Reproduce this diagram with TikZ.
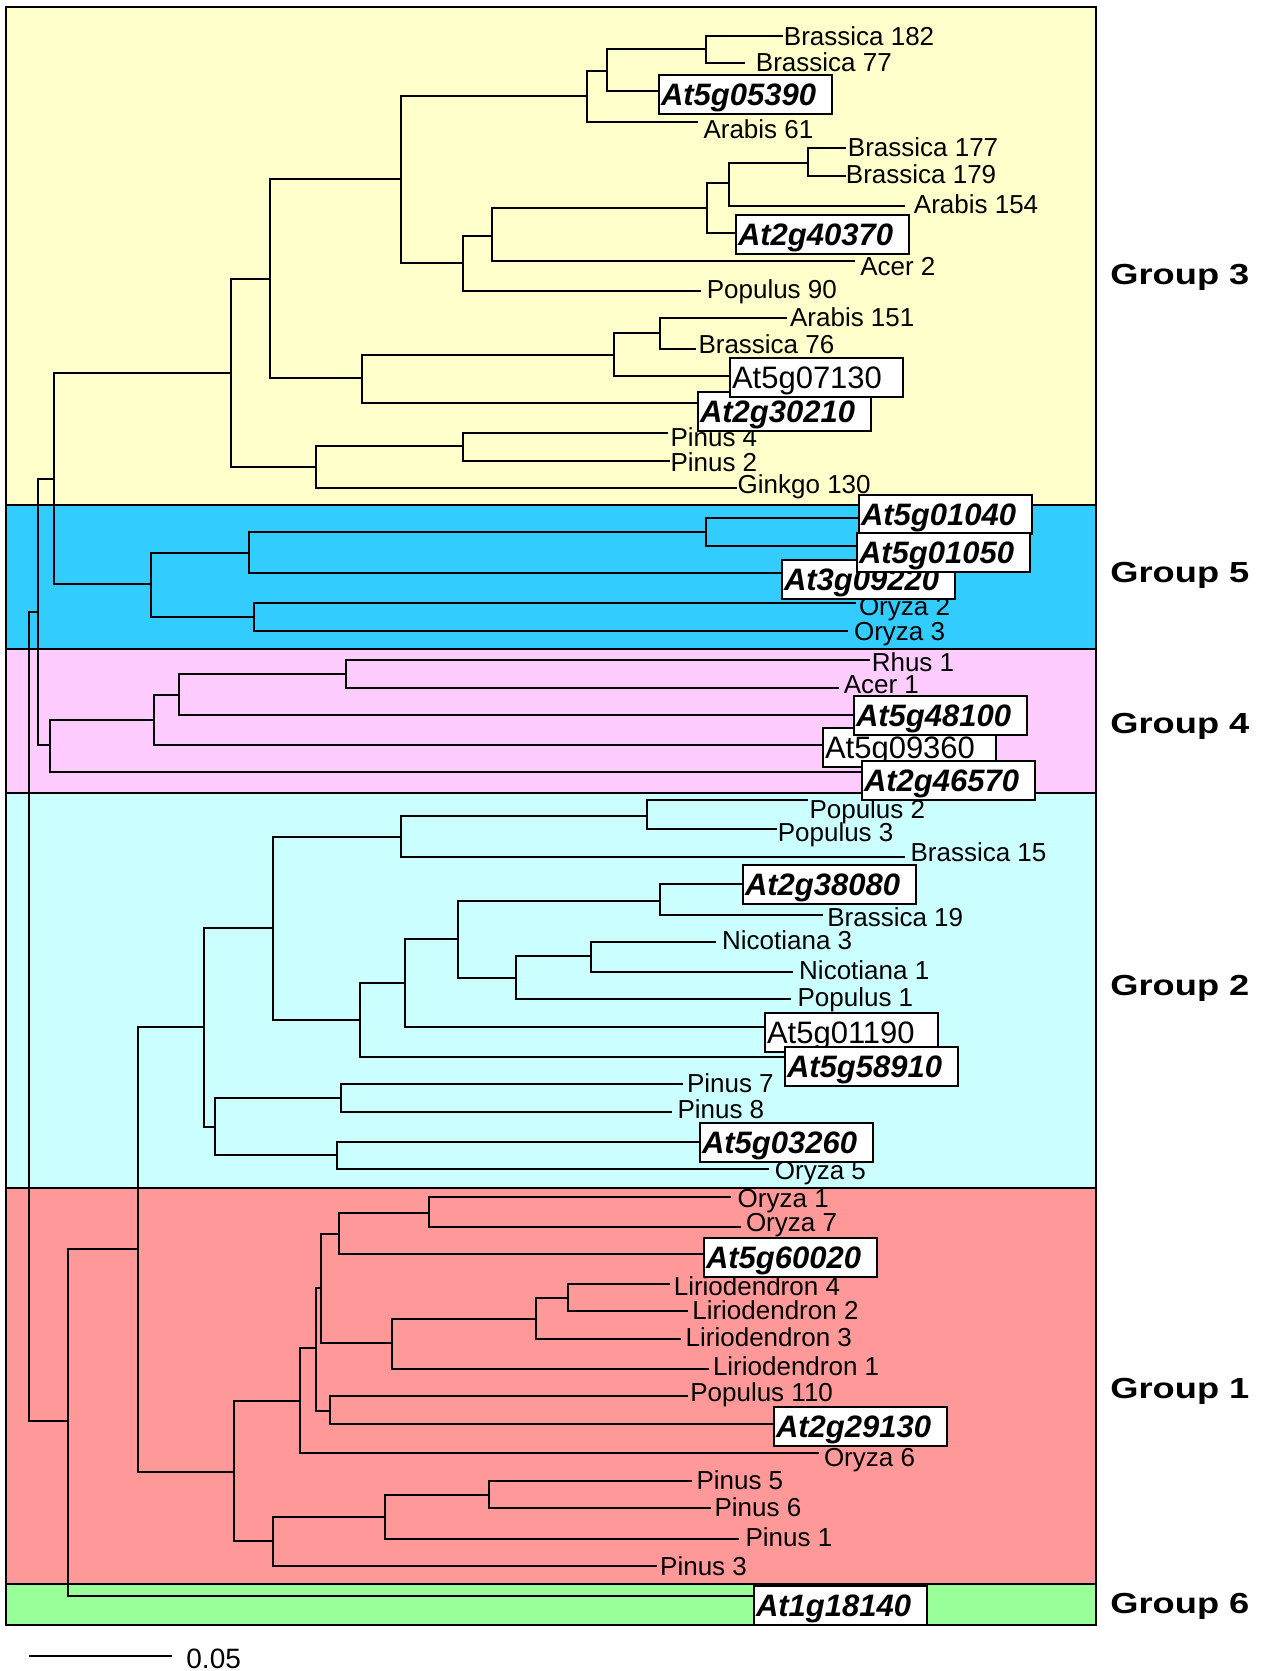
\documentclass[tikz,border=0pt]{standalone}
\usepackage{fontspec}
\setmainfont{Liberation Sans}
\usepackage{graphicx}
\definecolor{pyellow}{HTML}{FFFFCC}
\definecolor{pblue}{HTML}{33CCFF}
\definecolor{ppink}{HTML}{FFCCFF}
\definecolor{pcyan}{HTML}{CCFFFF}
\definecolor{pred}{HTML}{FF9999}
\definecolor{pgreen}{HTML}{99FF99}
\newcommand\lbfont{\fontsize{13pt}{15pt}\selectfont}
\newcommand\bxfont{\fontsize{15.5pt}{18pt}\selectfont}
\newcommand\grfont{\fontsize{14.5pt}{17pt}\selectfont\bfseries}
\begin{document}
\begin{tikzpicture}[x=0.5pt,y=-0.5pt,
  branch/.style={line width=1pt, line join=miter},
  panel/.style={draw=black, line width=0.9pt},
  lab/.style={anchor=base west, inner sep=0pt, font=\lbfont},
  boxlab/.style={draw=black, fill=white, line width=1pt, anchor=west,
    inner xsep=1pt, inner ysep=0pt, text width=84.6pt, align=left,
    minimum height=19.5pt, text height=11.1pt, text depth=0pt, font=\bxfont},
  grp/.style={anchor=base west, inner sep=0pt, font=\grfont}]
\useasboundingbox (0,0) rectangle (1267,1671);
% panels
\foreach \c/\a/\b in {pyellow/7/505, pblue/505/649, ppink/649/793, pcyan/793/1188, pred/1188/1584, pgreen/1584/1625}
  \filldraw[panel, fill=\c] (6,\a) rectangle (1096,\b);
% internal nodes
\coordinate (root) at (29,1017);
\coordinate (n1) at (706,49);
\coordinate (n2) at (607,71);
\coordinate (n3) at (587,96);
\coordinate (n4) at (808,163);
\coordinate (n5) at (729,183);
\coordinate (n6) at (707,208);
\coordinate (n7) at (492,236);
\coordinate (n8) at (463,263);
\coordinate (n9) at (401,179);
\coordinate (n10) at (660,333);
\coordinate (n11) at (614,355);
\coordinate (n12) at (362,378);
\coordinate (n13) at (270,279);
\coordinate (n14) at (463,446);
\coordinate (n15) at (316,467);
\coordinate (n16) at (231,373);
\coordinate (n17) at (54,479);
\coordinate (n18) at (706,532);
\coordinate (n19) at (249,553);
\coordinate (n20) at (254,617);
\coordinate (n21) at (151,584);
\coordinate (n22) at (346,674);
\coordinate (n23) at (179,695);
\coordinate (n24) at (154,720);
\coordinate (n25) at (50,745);
\coordinate (n26) at (38,612);
\coordinate (n28) at (647,816);
\coordinate (n29) at (401,837);
\coordinate (n30) at (660,901);
\coordinate (n31) at (591,956);
\coordinate (n32) at (516,978);
\coordinate (n33) at (458,939);
\coordinate (n34) at (405,983);
\coordinate (n35) at (360,1020);
\coordinate (n36) at (273,928);
\coordinate (n37) at (341,1098);
\coordinate (n38) at (337,1155);
\coordinate (n39) at (215,1127);
\coordinate (n40) at (68,1421);
\coordinate (n41) at (204,1027);
\coordinate (n42) at (429,1213);
\coordinate (n43) at (339,1234);
\coordinate (n44) at (568,1298);
\coordinate (n45) at (536,1319);
\coordinate (n46) at (392,1343);
\coordinate (n47) at (321,1288);
\coordinate (n48) at (330,1411);
\coordinate (n49) at (316,1348);
\coordinate (n50) at (300,1401);
\coordinate (n51) at (489,1495);
\coordinate (n52) at (385,1517);
\coordinate (n53) at (273,1541);
\coordinate (n54) at (234,1472);
\coordinate (n55) at (138,1249);
% leaf ends
\coordinate (l-b182) at (783,36);
\coordinate (l-b77) at (745,63);
\coordinate (l-at5g05390) at (658,91);
\coordinate (l-ar61) at (698,122);
\coordinate (l-b177) at (846,148);
\coordinate (l-b179) at (846,176);
\coordinate (l-ar154) at (905,206);
\coordinate (l-at2g40370) at (735,233);
\coordinate (l-acer2) at (855,261);
\coordinate (l-pop90) at (701,291);
\coordinate (l-ar151) at (787,318);
\coordinate (l-b76) at (696,349);
\coordinate (l-at5g07130) at (729,376);
\coordinate (l-at2g30210) at (697,403);
\coordinate (l-pin4) at (668,433);
\coordinate (l-pin2) at (670,461);
\coordinate (l-gink) at (737,488);
\coordinate (l-at5g01040) at (858,518);
\coordinate (l-at5g01050) at (856,546);
\coordinate (l-at3g09220) at (781,573);
\coordinate (l-ory2) at (856,603);
\coordinate (l-ory3) at (848,631);
\coordinate (l-rhus1) at (870,660);
\coordinate (l-acer1) at (839,688);
\coordinate (l-at5g48100) at (853,715);
\coordinate (l-at5g09360) at (822,745);
\coordinate (l-at2g46570) at (861,772);
\coordinate (l-pop2) at (808,800);
\coordinate (l-pop3) at (777,829);
\coordinate (l-b15) at (905,857);
\coordinate (l-at2g38080) at (742,884);
\coordinate (l-b19) at (823,915);
\coordinate (l-nic3) at (716,942);
\coordinate (l-nic1) at (793,972);
\coordinate (l-pop1) at (791,999);
\coordinate (l-at5g01190) at (764,1027);
\coordinate (l-at5g58910) at (784,1057);
\coordinate (l-pin7) at (683,1084);
\coordinate (l-pin8) at (672,1112);
\coordinate (l-at5g03260) at (699,1142);
\coordinate (l-ory5) at (769,1169);
\coordinate (l-ory1) at (731,1197);
\coordinate (l-ory7) at (741,1227);
\coordinate (l-at5g60020) at (703,1254);
\coordinate (l-lir4) at (670,1284);
\coordinate (l-lir2) at (688,1311);
\coordinate (l-lir3) at (681,1339);
\coordinate (l-lir1) at (709,1369);
\coordinate (l-pop110) at (688,1396);
\coordinate (l-at2g29130) at (773,1424);
\coordinate (l-ory6) at (819,1453);
\coordinate (l-pin5) at (692,1481);
\coordinate (l-pin6) at (711,1508);
\coordinate (l-pin1) at (739,1539);
\coordinate (l-pin3) at (657,1566);
\coordinate (l-at1g18140) at (753,1596);
% branches
\foreach \p/\c in {root/n26, root/n40,
  n26/n17, n26/n25, n17/n16, n17/n21, n16/n13, n16/n15, n13/n9, n13/n12,
  n9/n3, n9/n8, n3/n2, n3/l-ar61, n2/n1, n2/l-at5g05390, n1/l-b182, n1/l-b77,
  n8/n7, n8/l-pop90, n7/n6, n7/l-acer2, n6/n5, n6/l-at2g40370, n5/n4, n5/l-ar154,
  n4/l-b177, n4/l-b179, n12/n11, n12/l-at2g30210, n11/n10, n11/l-at5g07130,
  n10/l-ar151, n10/l-b76, n15/n14, n15/l-gink, n14/l-pin4, n14/l-pin2,
  n21/n19, n21/n20, n19/n18, n19/l-at3g09220, n18/l-at5g01040, n18/l-at5g01050,
  n20/l-ory2, n20/l-ory3,
  n25/n24, n25/l-at2g46570, n24/n23, n24/l-at5g09360, n23/n22, n23/l-at5g48100,
  n22/l-rhus1, n22/l-acer1,
  n40/n55, n40/l-at1g18140, n55/n41, n55/n54,
  n41/n36, n41/n39, n36/n29, n36/n35, n29/n28, n29/l-b15, n28/l-pop2, n28/l-pop3,
  n35/n34, n35/l-at5g58910, n34/n33, n34/l-at5g01190, n33/n30, n33/n32,
  n30/l-at2g38080, n30/l-b19, n32/n31, n32/l-pop1, n31/l-nic3, n31/l-nic1,
  n39/n37, n39/n38, n37/l-pin7, n37/l-pin8, n38/l-at5g03260, n38/l-ory5,
  n54/n50, n54/n53, n50/n49, n50/l-ory6, n49/n47, n49/n48, n47/n43, n47/n46,
  n43/n42, n43/l-at5g60020, n42/l-ory1, n42/l-ory7, n46/n45, n46/l-lir1,
  n45/n44, n45/l-lir3, n44/l-lir4, n44/l-lir2, n48/l-pop110, n48/l-at2g29130,
  n53/n52, n53/l-pin3, n52/n51, n52/l-pin1, n51/l-pin5, n51/l-pin6}
  \draw[branch] (\p) |- (\c);
% plain labels
\node[lab] (t-b182) at (783.5,45.5) {Brassica 182};
\node[lab] (t-b77) at (755.5,71.8) {Brassica 77};
\node[lab] (t-ar61) at (703.1,138) {Arabis 61};
\node[lab] (t-b177) at (847.5,156.3) {Brassica 177};
\node[lab] (t-b179) at (845.5,183.3) {Brassica 179};
\node[lab] (t-ar154) at (913.5,213.3) {Arabis 154};
\node[lab] (t-acer2) at (859.9,275) {Acer 2};
\node[lab] (t-pop90) at (706.4,298.5) {Populus 90};
\node[lab] (t-ar151) at (789.7,326.7) {Arabis 151};
\node[lab] (t-b76) at (698.1,353.3) {Brassica 76};
\node[lab] (t-pin4) at (670.1,446.7) {Pinus 4};
\node[lab] (t-pin2) at (670.1,471.7) {Pinus 2};
\node[lab] (t-gink) at (737.3,493) {Ginkgo 130};
\node[lab] (t-ory2) at (858.6,615) {Oryza 2};
\node[lab] (t-ory3) at (853.7,640) {Oryza 3};
\node[lab] (t-rhus1) at (871.4,671.7) {Rhus 1};
\node[lab] (t-acer1) at (843.4,693) {Acer 1};
\node[lab] (t-pop2) at (809.1,818) {Populus 2};
\node[lab] (t-pop3) at (777.4,841.7) {Populus 3};
\node[lab] (t-b15) at (910.2,861.7) {Brassica 15};
\node[lab] (t-b19) at (826.9,926) {Brassica 19};
\node[lab] (t-nic3) at (721.7,949.3) {Nicotiana 3};
\node[lab] (t-nic1) at (798.8,979.3) {Nicotiana 1};
\node[lab] (t-pop1) at (797.2,1006.7) {Populus 1};
\node[lab] (t-pin7) at (686.6,1092.3) {Pinus 7};
\node[lab] (t-pin8) at (677.1,1118.3) {Pinus 8};
\node[lab] (t-ory5) at (774.5,1179.3) {Oryza 5};
\node[lab] (t-ory1) at (737.3,1207.3) {Oryza 1};
\node[lab] (t-ory7) at (745.6,1231.7) {Oryza 7};
\node[lab] (t-lir4) at (673.4,1295) {Liriodendron 4};
\node[lab] (t-lir2) at (691.9,1319.3) {Liriodendron 2};
\node[lab] (t-lir3) at (685.3,1346) {Liriodendron 3};
\node[lab] (t-lir1) at (712.6,1375) {Liriodendron 1};
\node[lab] (t-pop110) at (689.9,1401.7) {Populus 110};
\node[lab] (t-ory6) at (823.6,1466.7) {Oryza 6};
\node[lab] (t-pin5) at (696.1,1489.3) {Pinus 5};
\node[lab] (t-pin6) at (714.2,1516.7) {Pinus 6};
\node[lab] (t-pin1) at (745.2,1546) {Pinus 1};
\node[lab] (t-pin3) at (659.8,1575) {Pinus 3};
% boxed labels
\node[boxlab] (b-at5g05390) at (658,94.5) {\textbf{\textit{At5g05390}}};
\node[boxlab] (b-at2g40370) at (735,234.5) {\textbf{\textit{At2g40370}}};
\node[boxlab] (b-at2g30210) at (697,411.5) {\textbf{\textit{At2g30210}}};
\node[boxlab] (b-at5g07130) at (729,377.5) {At5g07130};
\node[boxlab] (b-at5g01040) at (858,514) {\textbf{\textit{At5g01040}}};
\node[boxlab] (b-at3g09220) at (781,579.5) {\textbf{\textit{At3g09220}}};
\node[boxlab] (b-at5g01050) at (856,552.4) {\textbf{\textit{At5g01050}}};
\node[boxlab] (b-at5g09360) at (822,747.8) {At5g09360};
\node[boxlab] (b-at5g48100) at (853,715.3) {\textbf{\textit{At5g48100}}};
\node[boxlab] (b-at2g46570) at (861,780.5) {\textbf{\textit{At2g46570}}};
\node[boxlab] (b-at2g38080) at (742,884.5) {\textbf{\textit{At2g38080}}};
\node[boxlab] (b-at5g01190) at (764,1032.2) {At5g01190};
\node[boxlab] (b-at5g58910) at (784,1066.3) {\textbf{\textit{At5g58910}}};
\node[boxlab] (b-at5g03260) at (699,1142.2) {\textbf{\textit{At5g03260}}};
\node[boxlab] (b-at5g60020) at (703,1257.6) {\textbf{\textit{At5g60020}}};
\node[boxlab] (b-at2g29130) at (773,1426.2) {\textbf{\textit{At2g29130}}};
\node[boxlab] (b-at1g18140) at (753,1605) {\textbf{\textit{At1g18140}}};
% group labels
\node[grp] (g3) at (1110,284) {\scalebox{1.25}[1]{Group 3}};
\node[grp] (g5) at (1110,582) {\scalebox{1.25}[1]{Group 5}};
\node[grp] (g4) at (1110,733) {\scalebox{1.25}[1]{Group 4}};
\node[grp] (g2) at (1110,995) {\scalebox{1.25}[1]{Group 2}};
\node[grp] (g1) at (1110,1398) {\scalebox{1.25}[1]{Group 1}};
\node[grp] (g6) at (1110,1613.5) {\scalebox{1.25}[1]{Group 6}};
% scale bar
\coordinate (sb1) at (29,1656);
\coordinate (sb2) at (172,1656);
\draw[line width=1pt] (sb1) -- (sb2);
\node[anchor=base west, inner sep=0pt, font=\fontsize{14pt}{16pt}\selectfont] (sbl) at (186,1668.3) {0.05};
\end{tikzpicture}
\end{document}
